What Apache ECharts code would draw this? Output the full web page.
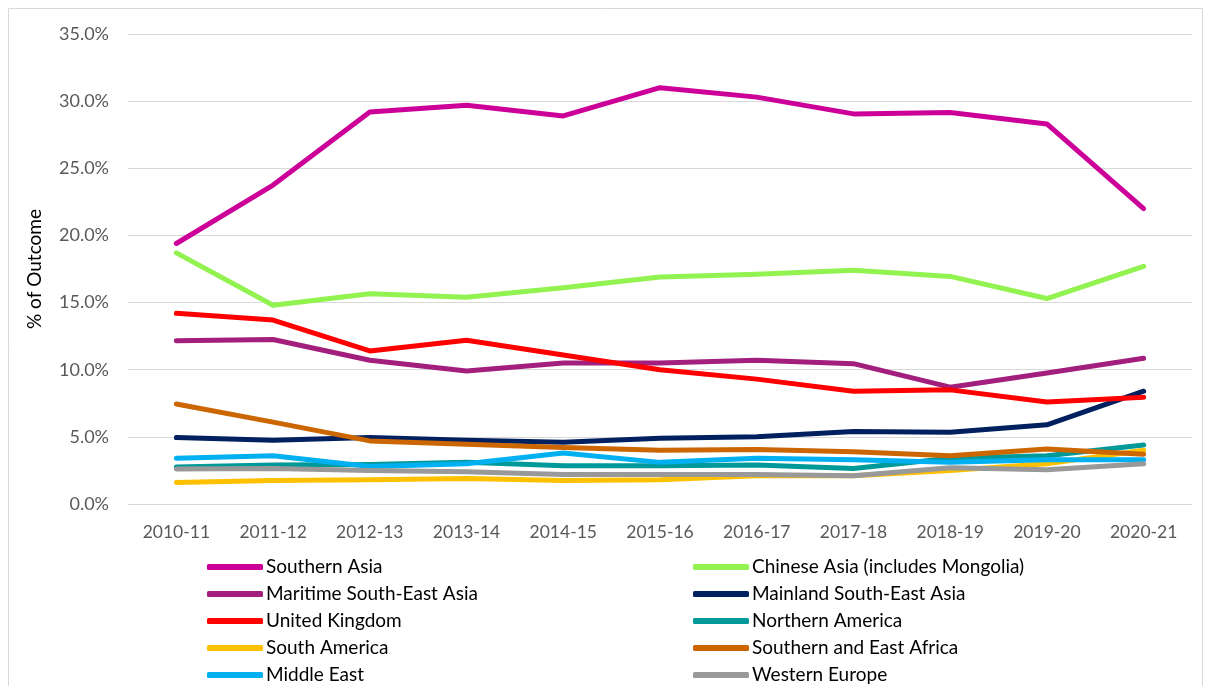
<!DOCTYPE html>
<html><head><meta charset="utf-8">
<script src="https://cdn.jsdelivr.net/npm/echarts@6/dist/echarts.min.js"></script>
<style>html,body{margin:0;padding:0;background:#fff}#c{width:1211px;height:686px}</style>
</head><body><div id="c"></div>
<script>
const categories = ['2010-11','2011-12','2012-13','2013-14','2014-15','2015-16','2016-17','2017-18','2018-19','2019-20','2020-21'];
const yTicks = {min: 0, max: 35, interval: 5};
const southernAsia   = [19.4, 23.75, 29.2, 29.7, 28.9, 31.0, 30.3, 29.05, 29.15, 28.3, 22.0];
const chineseAsia    = [18.7, 14.8, 15.65, 15.4, 16.1, 16.9, 17.1, 17.4, 16.95, 15.3, 17.7];
const maritimeSEA    = [12.15, 12.25, 10.7, 9.9, 10.5, 10.5, 10.7, 10.45, 8.7, 9.75, 10.85];
const mainlandSEA    = [4.95, 4.75, 4.95, 4.75, 4.6, 4.9, 5.0, 5.4, 5.35, 5.9, 8.4];
const unitedKingdom  = [14.2, 13.7, 11.4, 12.2, 11.1, 10.0, 9.3, 8.4, 8.5, 7.6, 7.95];
const northernAmerica= [2.75, 2.9, 2.95, 3.1, 2.85, 2.85, 2.9, 2.65, 3.4, 3.6, 4.4];
const southAmerica   = [1.6, 1.75, 1.8, 1.9, 1.75, 1.8, 2.1, 2.1, 2.5, 3.0, 4.0];
const seAfrica       = [7.45, 6.1, 4.7, 4.45, 4.2, 4.0, 4.05, 3.9, 3.6, 4.1, 3.7];
const middleEast     = [3.4, 3.6, 2.8, 3.0, 3.8, 3.1, 3.4, 3.3, 3.1, 3.3, 3.3];
const westernEurope  = [2.6, 2.65, 2.5, 2.4, 2.2, 2.2, 2.2, 2.1, 2.7, 2.55, 3.0];

const seriesDefs = [
  ['Southern Asia', southernAsia, '#CC0099'],
  ['Chinese Asia (includes Mongolia)', chineseAsia, '#92F250'],
  ['Maritime South-East Asia', maritimeSEA, '#A21F7E'],
  ['Mainland South-East Asia', mainlandSEA, '#002060'],
  ['United Kingdom', unitedKingdom, '#FF0000'],
  ['Northern America', northernAmerica, '#009999'],
  ['South America', southAmerica, '#FFC000'],
  ['Southern and East Africa', seAfrica, '#CC6600'],
  ['Middle East', middleEast, '#00B0F0'],
  ['Western Europe', westernEurope, '#999999']
];
const leftCol = [0,2,4,6,8].map(i => seriesDefs[i][0]);
const rightCol = [1,3,5,7,9].map(i => seriesDefs[i][0]);

const font = 'Lato, "Open Sans", sans-serif';
const legendBase = {
  orient: 'vertical', itemWidth: 56, itemHeight: 6, itemGap: 7, icon: 'roundRect',
  height: 200, padding: 0,
  textStyle: {fontFamily: font, fontSize: 19, lineHeight: 20, color: '#000', padding: [0,0,0,-2]},
  selectedMode: false
};
const chart = echarts.init(document.getElementById('c'), null, {renderer: 'canvas'});
chart.setOption({
  animation: false,
  graphic: [{type: 'rect', shape: {x: 8.5, y: 8.5, width: 1194, height: 700}, style: {fill: 'none', stroke: '#d9d9d9', lineWidth: 1}, silent: true}],
  grid: {left: 128, right: 19, top: 34, bottom: 182, containLabel: false},
  legend: [
    Object.assign({}, legendBase, {data: leftCol, left: 207, top: 557}),
    Object.assign({}, legendBase, {data: rightCol, left: 693, top: 557})
  ],
  xAxis: {
    type: 'category', data: categories, boundaryGap: true,
    axisLine: {show: true, lineStyle: {color: '#d9d9d9', width: 1}},
    axisTick: {show: false},
    axisLabel: {fontFamily: font, fontSize: 17.5, color: '#595959', margin: 19}
  },
  yAxis: {
    type: 'value', min: yTicks.min, max: yTicks.max, interval: yTicks.interval,
    name: '% of Outcome', nameLocation: 'middle', nameGap: 84,
    nameTextStyle: {fontFamily: font, fontSize: 19, color: '#000'},
    axisLine: {show: false}, axisTick: {show: false},
    splitLine: {lineStyle: {color: '#d9d9d9', width: 1}},
    axisLabel: {fontFamily: font, fontSize: 18, color: '#595959', margin: 19, formatter: v => v.toFixed(1) + '%'}
  },
  series: seriesDefs.map(([name, data, color]) => ({
    name, type: 'line', data, symbol: 'none', showSymbol: false, smooth: false,
    color, itemStyle: {color},
    lineStyle: {color, width: 5, cap: 'round', join: 'round'}
  }))
});
</script></body></html>
